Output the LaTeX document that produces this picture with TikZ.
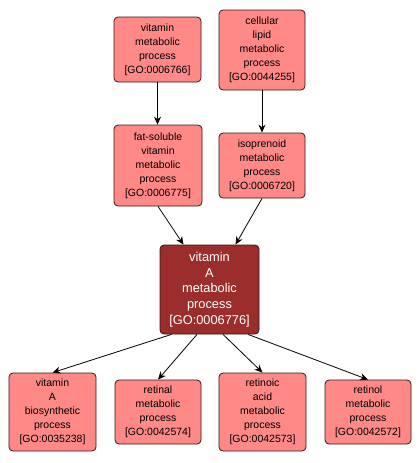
\documentclass[tikz,border=0pt]{standalone}
\usepackage{fontspec}
\setmainfont{Liberation Sans}
\usetikzlibrary{arrows.meta,calc}
\definecolor{gofill}{RGB}{255,137,135}
\definecolor{goborder}{RGB}{60,20,20}
\definecolor{vafill}{RGB}{155,45,45}
\tikzset{
  goterm/.style={draw=goborder, line width=0.8pt, fill=gofill, rounded corners=4pt,
    align=center, inner sep=0pt, minimum width=87pt,
    font=\fontsize{10.5}{14}\selectfont, text=black},
  gomain/.style={goterm, fill=vafill, text=white, minimum width=99pt,
    font=\fontsize{12.8}{15.8}\selectfont},
  goedge/.style={draw=black, line width=0.8pt, -{Stealth[length=8pt,width=7pt]}}
}
\begin{document}
\begin{tikzpicture}[x=1pt,y=-1pt]
\useasboundingbox (0,0) rectangle (420,463);
\node[goterm, minimum height=65pt] (vm) at (157.5,49.5) {vitamin\\metabolic\\process\\{[GO:0006766]}};
\node[goterm, minimum height=80pt, minimum width=86pt] (cl) at (262,50) {cellular\\lipid\\metabolic\\process\\{[GO:0044255]}};
\node[goterm, minimum height=81pt, minimum width=88pt] (fs) at (158,165.5) {fat-soluble\\vitamin\\metabolic\\process\\{[GO:0006775]}};
\node[goterm, minimum height=65pt, minimum width=86pt] (iso) at (262,165.5) {isoprenoid\\metabolic\\process\\{[GO:0006720]}};
\node[gomain, minimum height=89pt] (va) at (209.5,289.5) {vitamin\\A\\metabolic\\process\\{[GO:0006776]}};
\node[goterm, minimum height=78pt] (bio) at (52.5,412) {vitamin\\A\\biosynthetic\\process\\{[GO:0035238]}};
\node[goterm, minimum height=64pt, minimum width=86pt] (ret) at (158,412) {retinal\\metabolic\\process\\{[GO:0042574]}};
\node[goterm, minimum height=78pt] (ra) at (262.5,412) {retinoic\\acid\\metabolic\\process\\{[GO:0042573]}};
\node[goterm, minimum height=64pt, minimum width=86pt] (rol) at (368,412) {retinol\\metabolic\\process\\{[GO:0042572]}};
\draw[goedge] (vm.south) -- (vm.south |- fs.north);
\draw[goedge] (cl.south) -- (iso.north);
\draw[goedge] (fs.south) -- ($(va.north)+(-26,0)$);
\draw[goedge] (iso.south) -- ($(va.north)+(26,0)$);
\draw[goedge] ($(va.south)+(-38,0)$) -- (bio.north);
\draw[goedge] ($(va.south)+(-12.5,0)$) -- (ret.north);
\draw[goedge] ($(va.south)+(13.5,0)$) -- (ra.north);
\draw[goedge] ($(va.south)+(38.5,0)$) -- (rol.north);
\end{tikzpicture}
\end{document}
